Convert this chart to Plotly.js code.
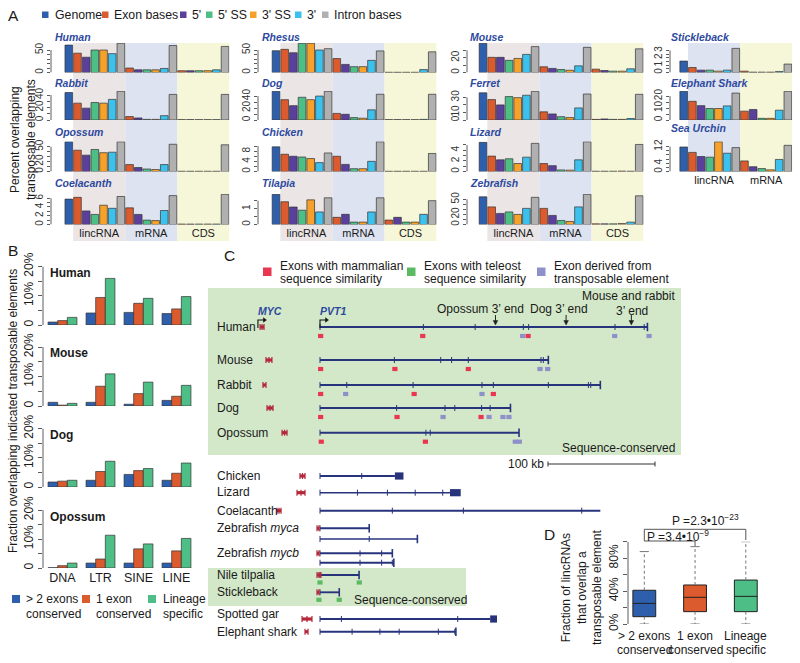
<!DOCTYPE html>
<html><head><meta charset="utf-8">
<script src="https://cdn.plot.ly/plotly-3.0.1.min.js"></script>
<style>html,body{margin:0;padding:0;background:#fff}#chart{width:800px;height:663px}</style>
</head><body><div id="chart"></div>
<script>
// ===================== DATA =====================
// Panel A: genome, then [exon, 5', 5'SS, 3'SS, 3', intron] for lincRNA, mRNA, (CDS)
const aCategories = ['Genome', 'Exon bases', "5'", "5' SS", "3' SS", "3'", 'Intron bases'];
const aRegions = ['lincRNA', 'mRNA', 'CDS'];
const human        = [61,   43, 34, 50, 50, 42, 65,   10, 6, 6, 6, 9, 60,   4, 4, 4, 4, 6, 58];
const rabbit       = [44,   27, 19, 28, 27, 33, 46,   5.5, 3.3, 1, 1, 7, 41,   0.5, 0.5, 0.5, 0.5, 0.5, 41];
const opossum      = [60,   43, 33, 44.5, 38, 39, 60,   14, 8, 5, 4, 14, 55,   0.5, 0.5, 0.5, 0.5, 0.5, 54];
const coelacanth   = [5.8,  6.2, 3.1, 2.3, 4.4, 3.7, 6.4,   3.8, 2.3, 1.0, 0.9, 3.2, 6.6,   0.1, 0.1, 0.1, 0.1, 0.1, 6.9];
const rhesus       = [48.5, 51.5, 44, 65, 65, 50, 53,   31, 18, 13, 13, 27, 48,   0.5, 0.5, 0.5, 0.5, 6.5, 46];
const dog          = [48,   34, 24, 38, 34, 40, 48,   11, 9.5, 4, 3, 17, 43,   0.5, 0.5, 0.5, 0.5, 1, 43];
const chicken      = [9.7,  6.8, 6, 5.7, 5.1, 3.5, 7.3,   6, 2.8, 1.1, 1.1, 4, 11.7,   0.1, 0.1, 0.1, 0.1, 0.1, 7.1];
const tilapia      = [1.9,  1.43, 1.1, 0.9, 1.55, 0.79, 1.68,   0.45, 0.64, 0.15, 0.15, 0.79, 1.68,   0.28, 0.45, 0.15, 0.15, 0.64, 1.5];
const mouse        = [39.5, 20.5, 20.5, 16.4, 19, 24.5, 35,   7.7, 5.5, 4, 3, 9, 34,   4.5, 2.7, 1.8, 1.8, 5, 32];
const ferret       = [36,   27, 20, 31, 29.6, 32.8, 38,   10.8, 8, 4.4, 3.2, 16, 34.4,   0.8, 1.4, 0.8, 0.8, 2, 34];
const lizard       = [5.5,  2.9, 2.2, 2.4, 1.5, 2.7, 5.3,   1.5, 1.1, 0.3, 0.25, 2.2, 5.6,   0.05, 0.05, 0.05, 0.08, 0.05, 5.1];
const zebrafish    = [55,   35, 22, 25, 20, 32, 54,   32, 18, 8, 6, 35, 60,   1.3, 1.3, 1.3, 2, 4.7, 57];
const stickleback  = [1.55, 0.68, 0.32, 0.32, 0.18, 0.32, 3.27,   0.18, 0.05, 0.05, 0.05, 0.14, 1.14];
const elephantShark= [24,   15.6, 12, 9.6, 9.6, 11.8, 22.5,   7.4, 8.8, 1.4, 1.4, 8.2, 24];
const seaUrchin    = [11.8, 9.2, 7.2, 6.9, 14.3, 8.8, 11.5,   5.1, 2.3, 1.4, 0.8, 5.8, 12.6];

// Panel B: % overlapping TE class
const bCategories = ['DNA', 'LTR', 'SINE', 'LINE'];
const bSeriesNames = ['> 2 exons conserved', '1 exon conserved', 'Lineage specific'];
const bHumanMulti = [1.0, 4.1, 4.3, 3.9],  bHumanOne = [1.5, 9.4, 7.4, 5.5],  bHumanLineage = [2.6, 15.9, 9.1, 9.7];
const bMouseMulti = [1.25, 1.25, 0.6, 1.9], bMouseOne = [0.3, 6.7, 4.2, 3.3], bMouseLineage = [0.9, 10.9, 8.1, 7.0];
const bDogMulti = [1.7, 2.3, 4.3, 2.3],    bDogOne = [2.0, 5.3, 5.6, 4.7],    bDogLineage = [2.3, 8.8, 6.3, 8.2];
const bOpossumMulti = [0.1, 1.7, 1.7, 1.7], bOpossumOne = [0.8, 3.1, 6.6, 5.9], bOpossumLineage = [1.7, 11.3, 8.3, 10.2];

// Panel C: gene models (kb from PVT1 TSS)
const cRows = ['Human', 'Mouse', 'Rabbit', 'Dog', 'Opossum', 'Chicken', 'Lizard', 'Coelacanth',
  'Zebrafish <i>myca</i>', '', 'Zebrafish <i>mycb</i>', '', 'Nile tilpalia', 'Stickleback', 'Spotted gar', 'Elephant shark'];
const cGeneEnd = [306, 213.4, 262, 178, 186, 70, 121.5, 262, 46, 91, 67.6, 69, 36.5, 18, 159, 127];
const cTerminalExon = [null, null, null, null, null, [70, 78], [121.5, 131.5], null, null, null, null, null, null, null, [159, 165.4], null];
const cEndBracket = [true, true, true, true, true, false, false, false, true, true, true, true, true, true, false, true];
const cExonTicks = [
  [0, 96.6, 145, 190, 195, 275.7, 303],
  [0, 69.5, 112.8, 123, 138.6, 206.5, 208.7],
  [0, 25, 87, 151.4, 162, 213.4, 250.8, 253],
  [0, 71.6, 116.8, 126, 151, 159],
  [0, 99, 103],
  [0, 39],
  [0, 35, 63, 89, 114.7],
  [0, 67.6, 134, 244.6],
  [0],
  [0, 46],
  [0, 37.4, 57.6],
  [0, 37.4, 57.6, 67.6],
  [0],
  [0],
  [0, 20, 128.7],
  [0, 30, 56, 74, 110.6, 126]
];
const cMammalExons = [[0.6, 96, 194.5], [0.6, 70, 138.6], [0.6, 88, 162], [0.6, 72, 150.5], [1.2, 98.5], [], [], [], [], [], [], [], [], [], [], []];
const cTEExons = [[189.3, 275.4, 307.5], [205.6, 212.8], [24, 151.4], [115, 158, 171, 176.6], [182.5, 186.3], [], [], [], [], [], [], [], [], [], [], []];
const cTeleostExons = [[], [], [], [], [], [], [], [], [], [], [], [], [0, 36.7], [-1, 18], [], []];
const cMYC = [[-56, -52.3], [-50.5, -44.9], [-53.3, -50.5], [-49.5, -43.9], [-35.5, -30.8], [-18.7, -14], [-21.5, -14], [-40.2, -36.4],
  [-2.8, -0.9], null, [-2.8, -0.9], null, [-2.8, 0.9], [-2.8, -0.9], [-16.8, -7.5], [-14, -11.2]];
const cHumanMycTSS = -58;
const c3EndLabels = ['Opossum 3’ end', 'Dog 3’ end', 'Mouse and rabbit', '3’ end'];
const c3EndPos = [164, 230, 291];
const cScaleKb = 100;

// Panel D: fraction of lincRNAs overlapping a TE
const dGroups = [['> 2 exons', 'conserved'], ['1 exon', 'conserved'], ['Lineage', 'specific']];
const dLower = [0, 0, 0];
const dQ1 = [8.9, 15, 15];
const dMedian = [25, 32.4, 33.6];
const dQ3 = [41, 47.4, 53.4];
const dUpper = [88, 94, 100];
const dPvalues = ['P =3.4•10<sup>−9</sup>', 'P =2.3•10<sup>−23</sup>'];

// ===================== STYLE / LAYOUT =====================
const W = 800, H = 663;
const fx = p => p / W;
const fy = p => 1 - p / H;
const FONT = 'Liberation Sans, Arial, Helvetica, sans-serif';
const TXT = '#1a1a1a';
const catColors = ['#2d5fac', '#db5a2e', '#5b3f9c', '#4dbf86', '#f5a12a', '#3cc0ec', '#b0b0b0'];
const grpColors = ['#2d5fac', '#db5a2e', '#4dbf86'];
const speciesBlue = '#2e4a9e';

const data = [];
const layout = {
  width: W, height: H, margin: {l: 0, r: 0, t: 0, b: 0},
  paper_bgcolor: '#fff', plot_bgcolor: 'rgba(0,0,0,0)',
  showlegend: false, barmode: 'overlay',
  font: {family: FONT, size: 12, color: TXT},
  shapes: [], annotations: []
};
function ann(text, xpx, ypx, opts) {
  layout.annotations.push(Object.assign({text: text, x: fx(xpx), y: fy(ypx), xref: 'paper', yref: 'paper',
    showarrow: false, xanchor: 'left', yanchor: 'middle', font: {size: 12, color: TXT, family: FONT}}, opts || {}));
}
function paperRect(x0, y0, x1, y1, color, layer) {
  layout.shapes.push({type: 'rect', xref: 'paper', yref: 'paper', x0: fx(x0), x1: fx(x1), y0: fy(y1), y1: fy(y0),
    fillcolor: color, line: {width: 0}, layer: layer || 'above'});
}
const axName = k => (k === 1 ? '' : String(k));

// ---------- Panel A ----------
const panelA = [
  {name: 'Human', vals: human, col: 0, row: 0, ticks: [0, 10, 20, 30, 40, 50], labels: [0, 50]},
  {name: 'Rabbit', vals: rabbit, col: 0, row: 1, ticks: [0, 10, 20, 30, 40], labels: [0, 20, 40]},
  {name: 'Opossum', vals: opossum, col: 0, row: 2, ticks: [0, 10, 20, 30, 40, 50], labels: [0, 20, 50]},
  {name: 'Coelacanth', vals: coelacanth, col: 0, row: 3, ticks: [0, 1, 2, 3, 4, 5, 6], labels: [0, 2, 4, 6], bottom: true},
  {name: 'Rhesus', vals: rhesus, col: 1, row: 0, ticks: [0, 10, 20, 30, 40, 50], labels: [0, 50]},
  {name: 'Dog', vals: dog, col: 1, row: 1, ticks: [0, 10, 20, 30, 40], labels: [0, 20, 40]},
  {name: 'Chicken', vals: chicken, col: 1, row: 2, ticks: [0, 2, 4, 6, 8, 10], labels: [0, 4, 8]},
  {name: 'Tilapia', vals: tilapia, col: 1, row: 3, ticks: [0, 0.5, 1, 1.5], labels: [0, 1], bottom: true},
  {name: 'Mouse', vals: mouse, col: 2, row: 0, ticks: [0, 10, 20, 30], labels: [0, 20]},
  {name: 'Ferret', vals: ferret, col: 2, row: 1, ticks: [0, 10, 20, 30], labels: [0, 10, 30]},
  {name: 'Lizard', vals: lizard, col: 2, row: 2, ticks: [0, 1, 2, 3, 4, 5], labels: [0, 2, 4]},
  {name: 'Zebrafish', vals: zebrafish, col: 2, row: 3, ticks: [0, 10, 20, 30, 40, 50], labels: [0, 20, 50], bottom: true},
  {name: 'Stickleback', vals: stickleback, col: 3, row: 0, ticks: [0, 0.5, 1, 1.5, 2, 2.5, 3], labels: [0, 1, 2, 3], yMax: 4.0},
  {name: 'Elephant Shark', vals: elephantShark, col: 3, row: 1, ticks: [0, 5, 10, 15, 20], labels: [0, 10, 20]},
  {name: 'Sea Urchin', vals: seaUrchin, col: 3, row: 2, ticks: [0, 2, 4, 6, 8, 10, 12], labels: [0, 4, 12], bottom: true}
];
const colAxisPx = [51, 258, 467, 670];
const colFirstBarPx = [68.8, 276, 483, 683.7];
const slotPx = 8.68;
const rowTopPx = [43, 91, 141.5, 194];
const rowBasePx = [72.5, 120, 171.5, 224.5];
const titleXPx = [53, 260, 468, 669];
const titleYPx = [[37, 83, 132, 183], [37, 83, 132, 183], [37, 83, 132, 183], [37, 83, 128]];
const shadeBottomPx = [241, 241, 241, 172];
const shadeFills = [['#ebe5e6', '#dde3f1', '#f6f6d8'], ['#ebe5e6', '#dde3f1', '#f6f6d8'], ['#ebe5e6', '#dde3f1', '#f6f6d8'], ['#dde3f1', '#f6f6d8']];
const colFirstAxis = {};

panelA.forEach((sp, i) => {
  const k = i + 1, n = sp.vals.length, col = sp.col, row = sp.row;
  const xr = 'x' + axName(k), yr = 'y' + axName(k);
  if (!(col in colFirstAxis)) colFirstAxis[col] = xr;
  const left = (colFirstBarPx[col] - colAxisPx[col]) / slotPx;
  const rightPx = colFirstBarPx[col] + (n - 0.5) * slotPx;
  const nReg = (n - 1) / 6;
  const maxV = Math.max.apply(null, sp.vals);
  layout['xaxis' + axName(k)] = {
    domain: [fx(colAxisPx[col]), fx(rightPx)], range: [-left, n - 0.5], anchor: yr,
    showgrid: false, zeroline: false, showline: false, ticks: '', fixedrange: true,
    showticklabels: !!sp.bottom, tickangle: 0,
    tickvals: aRegions.slice(0, nReg).map((r, j) => 3.5 + 6 * j),
    ticktext: aRegions.slice(0, nReg),
    tickfont: {size: 11, color: TXT, family: FONT}
  };
  layout['yaxis' + axName(k)] = {
    domain: [fy(rowBasePx[row]), fy(rowTopPx[row])], range: [0, sp.yMax || maxV * 1.01], anchor: xr,
    showgrid: false, zeroline: false, showline: false, fixedrange: true,
    ticks: 'outside', ticklen: 3, tickwidth: 0.8, tickcolor: '#333',
    tickvals: sp.ticks, ticktext: sp.ticks.map(v => sp.labels.indexOf(v) >= 0 ? String(v) : ''),
    tickangle: -90, tickfont: {size: 10, color: '#333', family: FONT}
  };
  data.push({
    type: 'bar', x: sp.vals.map((v, j) => j), y: sp.vals, width: 0.88,
    marker: {color: sp.vals.map((v, j) => catColors[j === 0 ? 0 : ((j - 1) % 6) + 1]), line: {color: '#333', width: 0.7}},
    xaxis: xr, yaxis: yr, hoverinfo: 'skip', cliponaxis: false
  });
  layout.shapes.push({type: 'line', xref: xr + ' domain', yref: yr, x0: 0, x1: 0, y0: 0, y1: sp.ticks[sp.ticks.length - 1], line: {color: '#333', width: 0.8}});
  ann('<b><i>' + sp.name + '</i></b>', titleXPx[col], titleYPx[col][row], {font: {size: 10.5, color: speciesBlue, family: FONT}});
});
// region shading
[0, 1, 2, 3].forEach(col => {
  shadeFills[col].forEach((c, r) => {
    layout.shapes.push({type: 'rect', xref: colFirstAxis[col], yref: 'paper', x0: 0.5 + 6 * r, x1: 6.5 + 6 * r,
      y0: fy(shadeBottomPx[col]), y1: fy(43), fillcolor: c, line: {width: 0}, layer: 'below'});
  });
});
// legend A
const aLegSqX = [42, 102, 180, 206, 250, 295, 322];
const aLegTxtX = [53, 112, 190, 216, 260, 305, 332];
aCategories.forEach((c, j) => {
  paperRect(aLegSqX[j], 11.5, aLegSqX[j] + 6.5, 18, catColors[j]);
  ann(c, aLegTxtX[j], 15, {font: {size: 12.3, color: TXT, family: FONT}});
});
ann('A', 6, 15.5, {font: {size: 15.5, color: TXT, family: FONT}});
ann('Percent overlapping<br>transposable elements', 23, 140, {textangle: -90, xanchor: 'center', font: {size: 12, color: TXT, family: FONT}});

// ---------- Panel B ----------
const panelB = [
  {name: 'Human', s: [bHumanMulti, bHumanOne, bHumanLineage]},
  {name: 'Mouse', s: [bMouseMulti, bMouseOne, bMouseLineage]},
  {name: 'Dog', s: [bDogMulti, bDogOne, bDogLineage]},
  {name: 'Opossum', s: [bOpossumMulti, bOpossumOne, bOpossumLineage]}
];
const bAxisPx = 43, bFirstPx = 62.5, bGroupPx = 38, bRightPx = 196;
const bBasePx = [325, 406, 487, 568], bTopPx = [266.4, 347, 428.5, 510], bTitleY = [273, 353, 435, 517];
const bBarW = 0.253, bOffsets = [-0.38, -0.127, 0.127];
panelB.forEach((sp, i) => {
  const k = 16 + i, xr = 'x' + k, yr = 'y' + k;
  layout['xaxis' + k] = {domain: [fx(bAxisPx), fx(bRightPx)], range: [-(bFirstPx - bAxisPx) / bGroupPx, (bRightPx - bFirstPx) / bGroupPx],
    anchor: yr, showgrid: false, zeroline: false, showline: false, ticks: '', fixedrange: true, tickangle: 0,
    showticklabels: i === 3, tickvals: bCategories.map((c, j) => j), ticktext: bCategories, tickfont: {size: 12.5, color: TXT, family: FONT}};
  layout['yaxis' + k] = {domain: [fy(bBasePx[i]), fy(bTopPx[i])], range: [0, 20], anchor: xr,
    showgrid: false, zeroline: false, showline: false, fixedrange: true, ticks: 'outside', ticklen: 4, tickwidth: 0.8, tickcolor: '#333',
    tickvals: [0, 5, 10, 15, 20], ticktext: ['0', '', '10%', '', '20%'], tickangle: -90, tickfont: {size: 12, color: TXT, family: FONT}};
  sp.s.forEach((vals, j) => {
    data.push({type: 'bar', x: bCategories.map((c, m) => m), y: vals, width: bBarW, offset: bOffsets[j], name: bSeriesNames[j],
      marker: {color: grpColors[j], line: {color: '#333', width: 0.7}}, xaxis: xr, yaxis: yr, hoverinfo: 'skip', cliponaxis: false});
  });
  layout.shapes.push({type: 'line', xref: xr + ' domain', yref: yr, x0: 0, x1: 0, y0: 0, y1: 20, line: {color: '#333', width: 0.8}});
  ann('<b>' + sp.name + '</b>', 48, bTitleY[i], {font: {size: 12, color: TXT, family: FONT}});
});
ann('B', 6, 250, {font: {size: 15.5, color: TXT, family: FONT}});
ann('Fraction overlapping indicated transposable elements', 13, 411, {textangle: -90, xanchor: 'center', font: {size: 12, color: TXT, family: FONT}});
const bLegSq = [12, 82, 148], bLegTx = [24, 94, 161];
const bLegLines = [['> 2 exons', 'conserved'], ['1 exon', 'conserved'], ['Lineage', 'specific']];
bLegLines.forEach((lines, j) => {
  paperRect(bLegSq[j], 595, bLegSq[j] + 8, 603, grpColors[j]);
  ann(lines[0], bLegTx[j], 599, {font: {size: 12, color: TXT, family: FONT}});
  ann(lines[1], bLegTx[j], 613.5, {font: {size: 12, color: TXT, family: FONT}});
});

// ---------- Panel D ----------
const dAxisPx = 628, dFirstPx = 644.3, dStepPx = 50.75, dRightPx = 775;
layout.xaxis20 = {domain: [fx(dAxisPx), fx(dRightPx)], range: [-(dFirstPx - dAxisPx) / dStepPx, (dRightPx - dFirstPx) / dStepPx], anchor: 'y20',
  showgrid: false, zeroline: false, showline: false, ticks: '', fixedrange: true, showticklabels: false};
layout.yaxis20 = {domain: [fy(624), fy(541.7)], range: [0, 100], anchor: 'x20', showgrid: false, zeroline: false, showline: false, fixedrange: true,
  ticks: 'outside', ticklen: 4, tickwidth: 0.8, tickcolor: '#333', tickvals: [0, 20, 40, 60, 80, 100],
  ticktext: ['0%', '', '40%', '', '80%', ''], tickangle: -90, tickfont: {size: 12, color: TXT, family: FONT}};
layout.shapes.push({type: 'line', xref: 'x20 domain', yref: 'y20', x0: 0, x1: 0, y0: 0, y1: 100, line: {color: '#333', width: 0.8}});
dGroups.forEach((g, i) => {
  data.push({type: 'scatter', mode: 'lines', x: [i, i, null, i, i], y: [dQ3[i], dUpper[i], null, dQ1[i], dLower[i]],
    line: {color: '#777', width: 1, dash: '3px,2.5px'}, xaxis: 'x20', yaxis: 'y20', hoverinfo: 'skip', cliponaxis: false});
  data.push({type: 'scatter', mode: 'lines', x: [i - 0.09, i + 0.09, null, i - 0.09, i + 0.09], y: [dUpper[i], dUpper[i], null, dLower[i], dLower[i]],
    line: {color: '#777', width: 1}, xaxis: 'x20', yaxis: 'y20', hoverinfo: 'skip', cliponaxis: false});
  data.push({type: 'box', x: [i], q1: [dQ1[i]], median: [dMedian[i]], q3: [dQ3[i]], lowerfence: [dQ1[i]], upperfence: [dQ3[i]],
    width: 0.45, fillcolor: grpColors[i], line: {color: '#222', width: 1}, whiskerwidth: 0, boxpoints: false,
    xaxis: 'x20', yaxis: 'y20', hoverinfo: 'skip'});
  layout.annotations.push({text: g[0], xref: 'x20', yref: 'paper', x: i, y: fy(635.5), showarrow: false, xanchor: 'center', yanchor: 'middle', font: {size: 12, color: TXT, family: FONT}});
  layout.annotations.push({text: g[1], xref: 'x20', yref: 'paper', x: i, y: fy(649.5), showarrow: false, xanchor: 'center', yanchor: 'middle', font: {size: 12, color: TXT, family: FONT}});
});
layout.shapes.push({type: 'path', xref: 'x20', yref: 'paper', path: `M 0,${fy(541)} L 0,${fy(529.3)} L 2,${fy(529.3)} L 2,${fy(540)}`, line: {color: '#555', width: 1}});
layout.shapes.push({type: 'path', xref: 'x20', yref: 'paper', path: `M 0,${fy(541)} L 1,${fy(541)} L 1,${fy(546)}`, line: {color: '#555', width: 1}});
ann(dPvalues[1], 705, 520, {xanchor: 'center', font: {size: 12, color: TXT, family: FONT}});
ann(dPvalues[0], 645, 536, {font: {size: 12, color: TXT, family: FONT}});
ann('D', 542, 534, {font: {size: 15.5, color: TXT, family: FONT}});
ann('Fraction of lincRNAs<br>that overlap a<br>transposable element', 581, 588, {textangle: -90, xanchor: 'center', font: {size: 12, color: TXT, family: FONT}});

// ---------- Panel C ----------
const cOriginPx = 320, cPxPerKb = 1.07, cLeftPx = 208, cRightPx = 683;
layout.xaxis21 = {domain: [fx(cLeftPx), fx(cRightPx)], range: [(cLeftPx - cOriginPx) / cPxPerKb, (cRightPx - cOriginPx) / cPxPerKb],
  anchor: 'y21', visible: false, fixedrange: true};
layout.yaxis21 = {domain: [0, 1], range: [H, 0], anchor: 'x21', visible: false, fixedrange: true};
data.push({type: 'scatter', mode: 'markers', x: [], y: [], xaxis: 'x21', yaxis: 'y21', hoverinfo: 'skip'});
const cRowY = [327, 360, 385, 408, 432.7, 476, 492.7, 510.7, 528.3, 539, 553.3, 562.7, 575, 592.3, 619, 631.7];
const cLabelY = [327, 360, 385, 408, 432.7, 476, 492, 510.5, 527.5, 539, 553, 562.7, 574.5, 591.7, 614, 631.5];
const navy = '#27347c', mycRed = '#b3283a', mamRed = '#e93752', teleGreen = '#5cbb62', tePurple = '#8d90c9';
const kb = px => px / cPxPerKb;
function cLine(x0, x1, y, color, width) { layout.shapes.push({type: 'line', xref: 'x21', yref: 'y21', x0: x0, x1: x1, y0: y, y1: y, line: {color: color, width: width}}); }
function cVTick(x, y, h, color, width) { layout.shapes.push({type: 'line', xref: 'x21', yref: 'y21', x0: x, x1: x, y0: y - h / 2, y1: y + h / 2, line: {color: color, width: width}}); }
function cRect(x0, x1, y0, y1, color) { layout.shapes.push({type: 'rect', xref: 'x21', yref: 'y21', x0: x0, x1: x1, y0: y0, y1: y1, fillcolor: color, line: {width: 0}}); }
function cMark(x, y, color) { cRect(x - kb(2.6), x + kb(2.6), y - 2.1, y + 2.1, color); }

paperRect(208, 288, 681, 455, '#d3e8c9', 'below');
paperRect(208, 568, 466, 606, '#d3e8c9', 'below');

cRows.forEach((label, i) => {
  const y = cRowY[i];
  cLine(0, cGeneEnd[i], y, navy, (i === 9 || i === 6) ? 1.4 : 1.9);
  cExonTicks[i].forEach(t => cVTick(t, y, 6, navy, 1));
  if (cTerminalExon[i]) cRect(cTerminalExon[i][0], cTerminalExon[i][1], y - 3.6, y + 3.6, navy);
  if (cEndBracket[i]) cVTick(cGeneEnd[i], y, 8.5, navy, 1.6);
  if (cMYC[i]) {
    const m = cMYC[i];
    cRect(m[0], m[1], y - 1.6, y + 1.6, mycRed);
    cVTick(m[0], y, 6, mycRed, 1.2);
    cVTick(m[1], y, 6, mycRed, 1.2);
    if (m[1] - m[0] > 3) cVTick((m[0] + m[1]) / 2, y, 6, mycRed, 1.2);
  }
  cMammalExons[i].forEach(x => cMark(x, y + 9, mamRed));
  cTEExons[i].forEach(x => cMark(x, y + 9, tePurple));
  cTeleostExons[i].forEach(x => cMark(x, y + 7.5, teleGreen));
  if (label) ann(label, 215, cLabelY[i], {font: {size: 12, color: TXT, family: FONT}});
});
[cHumanMycTSS, 0].forEach(t => {
  const yb = cRowY[0];
  layout.shapes.push({type: 'path', xref: 'x21', yref: 'y21', path: `M ${t},${yb + 1} L ${t},${yb - 7} L ${t + kb(6)},${yb - 7}`, line: {color: '#111', width: 1.1}});
  layout.shapes.push({type: 'path', xref: 'x21', yref: 'y21', path: `M ${t + kb(5.5)},${yb - 9.3} L ${t + kb(8.5)},${yb - 7} L ${t + kb(5.5)},${yb - 4.7} Z`, fillcolor: '#111', line: {color: '#111', width: 0.5}});
});
ann('<b><i>MYC</i></b>', 256, 311, {font: {size: 10.5, color: speciesBlue, family: FONT}});
ann('<b><i>PVT1</i></b>', 318, 311, {font: {size: 10.5, color: speciesBlue, family: FONT}});
c3EndPos.forEach(p => {
  layout.shapes.push({type: 'line', xref: 'x21', yref: 'y21', x0: p, x1: p, y0: 315, y1: 321.5, line: {color: '#222', width: 1}});
  layout.shapes.push({type: 'path', xref: 'x21', yref: 'y21', path: `M ${p - kb(2.3)},${320.5} L ${p},${325} L ${p + kb(2.3)},${320.5} Z`, fillcolor: '#222', line: {color: '#222', width: 0.5}});
});
ann(c3EndLabels[0], 481, 309, {xanchor: 'center', font: {size: 12, color: TXT, family: FONT}});
ann(c3EndLabels[1], 559, 309, {xanchor: 'center', font: {size: 12, color: TXT, family: FONT}});
ann(c3EndLabels[2], 677, 296, {xanchor: 'right', font: {size: 12, color: TXT, family: FONT}});
ann(c3EndLabels[3], 631.5, 310.5, {xanchor: 'center', font: {size: 12, color: TXT, family: FONT}});
ann('Sequence-conserved', 677, 448, {xanchor: 'right', font: {size: 12, color: TXT, family: FONT}});
ann('Sequence-conserved', 352, 600, {font: {size: 12, color: TXT, family: FONT}});
const cScaleStart = kb(548 - cOriginPx);
cLine(cScaleStart, cScaleStart + cScaleKb, 464, '#333', 1);
cVTick(cScaleStart, 464, 5, '#333', 1);
cVTick(cScaleStart + cScaleKb, 464, 5, '#333', 1);
ann(cScaleKb + ' kb', 546, 464, {xanchor: 'right', font: {size: 12, color: TXT, family: FONT}});
const cLegSq = [263, 407, 537], cLegTx = [278, 421.5, 551.5];
const cLegColors = [mamRed, teleGreen, tePurple];
const cLegText = [['Exons with mammalian', 'sequence similarity'], ['Exons with teleost', 'sequence similarity'], ['Exon derived from', 'transposable element']];
cLegText.forEach((t, j) => {
  paperRect(cLegSq[j], 267.5, cLegSq[j] + 8.5, 276, cLegColors[j]);
  ann(t[0], cLegTx[j], 265.5, {font: {size: 12, color: TXT, family: FONT}});
  ann(t[1], cLegTx[j], 278.5, {font: {size: 12, color: TXT, family: FONT}});
});
ann('C', 222, 256, {font: {size: 15.5, color: TXT, family: FONT}});

Plotly.newPlot('chart', data, layout, {staticPlot: true, displayModeBar: false});
</script>
</body></html>
